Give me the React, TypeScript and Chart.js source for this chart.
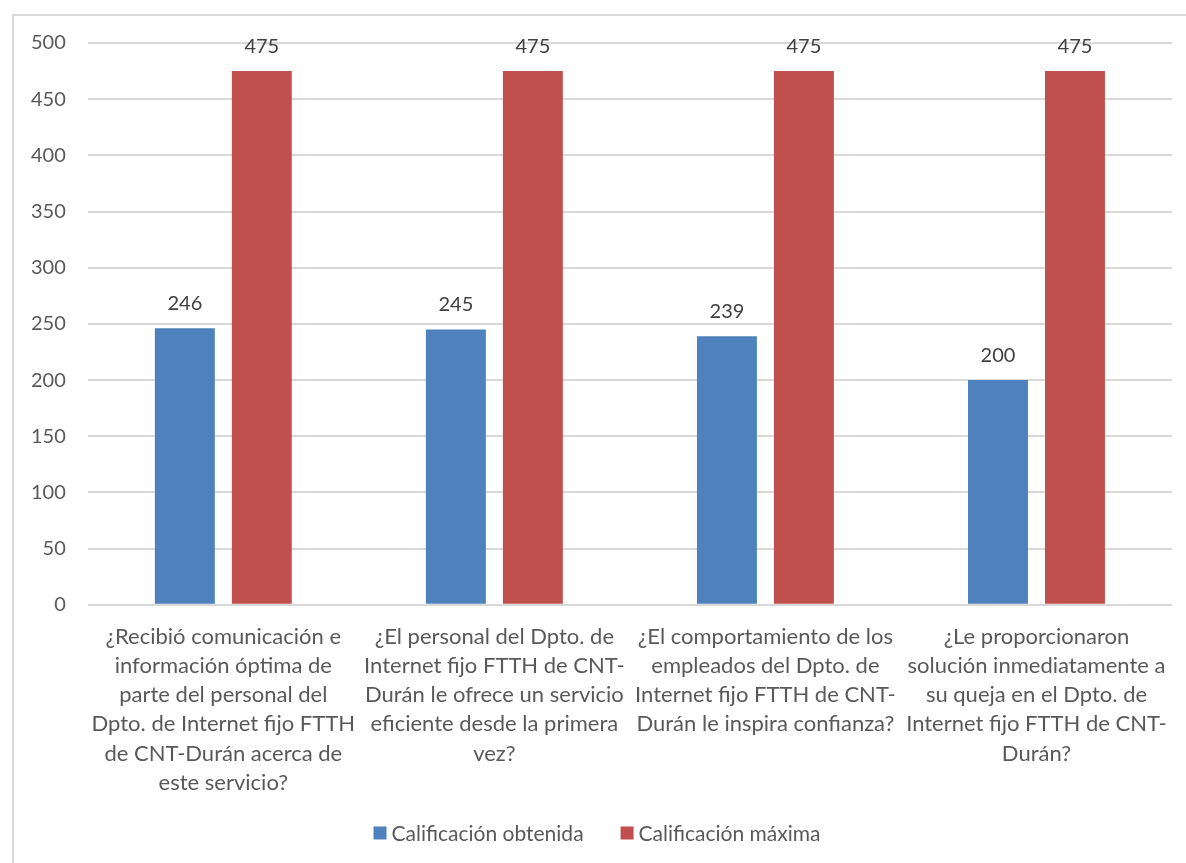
import React, { useEffect, useRef } from "react";
import { Chart, registerables } from "chart.js";

Chart.register(...registerables);

const categories: string[][] = [
  ["¿Recibió comunicación e", "información óptima de", "parte del personal del", "Dpto. de Internet fijo FTTH", "de CNT-Durán acerca de", "este servicio?"],
  ["¿El personal del Dpto. de", "Internet fijo FTTH de CNT-", "Durán le ofrece un servicio", "eficiente desde la primera", "vez?"],
  ["¿El comportamiento de los", "empleados del Dpto. de", "Internet fijo FTTH de CNT-", "Durán le inspira confianza?"],
  ["¿Le proporcionaron", "solución inmediatamente a", "su queja en el Dpto. de", "Internet fijo FTTH de CNT-", "Durán?"],
];
const obtenida: number[] = [246, 245, 239, 200];
const maxima: number[] = [475, 475, 475, 475];
const seriesNames: string[] = ["Calificación obtenida", "Calificación máxima"];
const seriesColors: string[] = ["#4F81BD", "#C0504D"];

const FONT = "Lato, 'Liberation Sans', sans-serif";
const TEXT = "#595959";

const valueLabels = {
  id: "valueLabels",
  afterDatasetsDraw(chart: any) {
    const ctx = chart.ctx;
    ctx.save();
    ctx.font = `20px ${FONT}`;
    ctx.fillStyle = "#404040";
    ctx.textAlign = "center";
    ctx.textBaseline = "middle";
    chart.data.datasets.forEach((ds: any, i: number) => {
      const meta = chart.getDatasetMeta(i);
      meta.data.forEach((el: any, j: number) => {
        ctx.fillText(String(ds.data[j]), el.x, el.y - 25);
      });
    });
    ctx.restore();
  },
};

const customLegend = {
  id: "customLegend",
  afterDraw(chart: any) {
    const ctx = chart.ctx;
    ctx.save();
    ctx.font = `21px ${FONT}`;
    ctx.textBaseline = "middle";
    ctx.textAlign = "left";
    const box = 13;
    const gap = 5;
    const itemGap = 37;
    const items = chart.data.datasets.map((ds: any) => ({
      text: ds.label,
      color: ds.backgroundColor,
      w: box + gap + ctx.measureText(ds.label).width,
    }));
    const total = items.reduce((s: number, it: any) => s + it.w, 0) + itemGap * (items.length - 1);
    let x = chart.width / 2 + 4 - total / 2;
    const y = 833;
    items.forEach((it: any) => {
      ctx.fillStyle = it.color;
      ctx.fillRect(x, y - box / 2, box, box);
      ctx.fillStyle = TEXT;
      ctx.fillText(it.text, x + box + gap, y + 1);
      x += it.w + itemGap;
    });
    ctx.restore();
  },
};

export default function App() {
  const ref = useRef<HTMLCanvasElement>(null);
  useEffect(() => {
    if (!ref.current) return;
    const chart = new Chart(ref.current, {
      type: "bar",
      data: {
        labels: categories,
        datasets: [
          { label: seriesNames[0], data: obtenida, backgroundColor: seriesColors[0], categoryPercentage: 0.568, barPercentage: 0.779 },
          { label: seriesNames[1], data: maxima, backgroundColor: seriesColors[1], categoryPercentage: 0.568, barPercentage: 0.779 },
        ],
      },
      options: {
        animation: false,
        responsive: false,
        maintainAspectRatio: false,
        layout: { padding: { left: 9, right: 14, top: 43, bottom: 56 } },
        plugins: {
          tooltip: { enabled: false },
          legend: { display: false },
        },
        scales: {
          x: {
            grid: { display: false },
            border: { display: false },
            ticks: {
              color: TEXT,
              maxRotation: 0,
              autoSkip: false,
              padding: 10,
              font: { family: FONT, size: 22, lineHeight: 1.32 },
            },
          },
          y: {
            min: 0,
            max: 500,
            border: { display: false },
            grid: { color: "#d9d9d9", lineWidth: 2, drawTicks: false },
            ticks: {
              stepSize: 50,
              color: TEXT,
              padding: 22,
              font: { family: FONT, size: 20 },
            },
          },
        },
      },
      plugins: [valueLabels, customLegend],
    });
    return () => chart.destroy();
  }, []);
  return (
    <div style={{ position: "fixed", left: 0, top: 0, width: 1186, height: 863, overflow: "hidden", background: "#fff" }}>
      <div style={{ position: "absolute", left: 12, top: 14, width: 1300, height: 1000, border: "2px solid #d9d9d9", boxSizing: "border-box" }} />
      <canvas ref={ref} width={1186} height={863} style={{ position: "absolute", left: 0, top: 0, width: 1186, height: 863 }} />
    </div>
  );
}
